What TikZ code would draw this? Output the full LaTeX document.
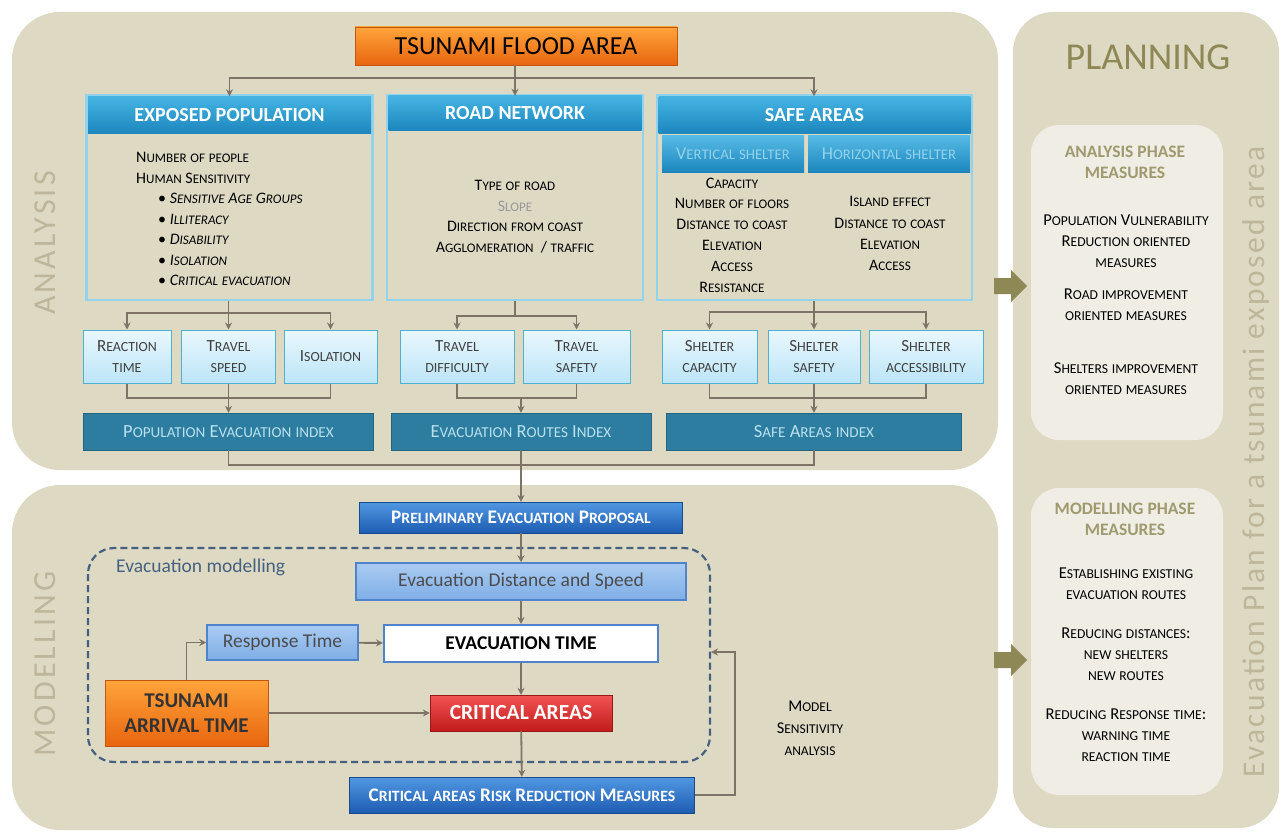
\documentclass[tikz,border=0pt]{standalone}
\usepackage{fontspec}
\setmainfont{Carlito}
\newfontfamily\sidefont[LetterSpace=10]{Carlito}
\newfontfamily\planfont[LetterSpace=7]{Carlito}
\usetikzlibrary{arrows.meta}

\definecolor{panelbg}{HTML}{DDD9C3}
\definecolor{innerbg}{HTML}{EFEDE4}
\definecolor{olive}{HTML}{8E8856}
\definecolor{sidegray}{HTML}{BDB69A}
\definecolor{headtop}{HTML}{45B4E2}
\definecolor{headbot}{HTML}{1C86BE}
\definecolor{bodyline}{HTML}{92D2EC}
\definecolor{facttop}{HTML}{E9F7FD}
\definecolor{factbot}{HTML}{BCE5F7}
\definecolor{factline}{HTML}{4FB0CF}
\definecolor{idxblue}{HTML}{2C7DA0}
\definecolor{idxtext}{HTML}{B9E0EF}
\definecolor{proptop}{HTML}{5198E2}
\definecolor{propbot}{HTML}{1E5CB2}
\definecolor{steptop}{HTML}{A9CBF2}
\definecolor{stepbot}{HTML}{7FAEE6}
\definecolor{stepline}{HTML}{4F84CC}
\definecolor{orgtop}{HTML}{FFA43A}
\definecolor{orgbot}{HTML}{E8650F}
\definecolor{redtop}{HTML}{F25454}
\definecolor{redbot}{HTML}{C21B1B}
\definecolor{linegray}{HTML}{7D7366}
\definecolor{framecol}{HTML}{46617F}

\newcommand{\fsz}[2][1.2]{\fontsize{#2}{#1\dimexpr #2pt\relax}\selectfont}
\makeatletter
\newcommand{\scsmall}[1]{{\fontsize{\dimexpr0.82\dimexpr\f@size pt\relax\relax}{\baselineskip}\selectfont\MakeUppercase{#1}}}
\makeatother
\ExplSyntaxOn
\tl_new:N \l_fakesc_tl
\NewDocumentCommand{\fakesc}{m}
	{
		\tl_set:Nn \l_fakesc_tl {#1}
		\regex_replace_all:nnN {([a-z]+)} {\c{scsmall}\cB\{\1\cE\}} \l_fakesc_tl
		\tl_use:N \l_fakesc_tl
	}
\ExplSyntaxOff

\tikzset{
	bodybox/.style={draw=bodyline, line width=2.5pt, fill=panelbg, inner sep=0pt},
	headbox/.style={top color=headtop, bottom color=headbot, draw=none, text=white, inner sep=0pt, font=\bfseries\fsz{20}},
	shelterhead/.style={top color=headtop!90!white, bottom color=headbot, draw=none, text=bodyline, inner sep=0pt, font=\fsz{18}},
	listtext/.style={inner sep=0pt, font=\fsz[1.28]{16}},
	listmid/.style={inner sep=0pt, font=\fsz[1.3]{16}},
	listwide/.style={inner sep=0pt, font=\fsz[1.33]{16}},
	factorbox/.style={top color=facttop, bottom color=factbot, draw=factline, line width=1pt, inner sep=0pt, align=center, text=black!75, font=\fsz[1.22]{17}},
	indexbox/.style={fill=idxblue, draw=idxblue!80!black, inner sep=0pt, text=idxtext, font=\fsz{18.5}},
	proposalbox/.style={top color=proptop, bottom color=propbot, draw=propbot!80!black, inner sep=0pt, text=white, font=\bfseries\fsz{19.2}},
	stepbox/.style={top color=steptop, bottom color=stepbot, draw=stepline, line width=1.5pt, inner sep=0pt, text=black!70, font=\fsz{19.5}},
	orangebox/.style={top color=orgtop, bottom color=orgbot, draw=orgbot!85!black, inner sep=0pt, text=black},
	redbox/.style={top color=redtop, bottom color=redbot, draw=redbot!80!black, inner sep=0pt, text=white, font=\bfseries\fsz{21.5}},
	line/.style={draw=linegray, line width=1.8pt},
	arrow/.style={line, -{Stealth[length=7pt, width=7pt]}},
	sidetitle/.style={text=sidegray, inner sep=0pt, font=\sidefont\fsz{32}},
	plantext/.style={text=sidegray, inner sep=0pt, font=\planfont\fsz{31.5}},
	measuretitle/.style={text=olive!85, inner sep=0pt, align=center, font=\bfseries\fsz[1.2]{17.5}},
	measuretext/.style={text=black, inner sep=0pt, align=center, font=\fsz[1.27]{16.6}},
	arrivalbox/.style={orangebox, align=center, text=black!80, font=\bfseries\fsz[1.2]{21}},
	sensitext/.style={inner sep=0pt, align=center, font=\fsz[1.35]{16.4}}
}

\begin{document}
\begin{tikzpicture}[x=1pt, y=-1pt]
	%%%%% START %%%%%
	\useasboundingbox (0,0) rectangle (1281,832);
	
	\fill[panelbg, rounded corners=48pt] (12,12) rectangle (998,470);
	\fill[panelbg, rounded corners=48pt] (12,485) rectangle (998,830);
	\fill[panelbg, rounded corners=40pt] (1013,12) rectangle (1279,828);
	\fill[innerbg, rounded corners=28pt] (1031,125) rectangle (1223,440);
	\fill[innerbg, rounded corners=28pt] (1031,488) rectangle (1223,795);
	
	\node[sidetitle, rotate=90] (antitle) at (45,243) {ANALYSIS};
	\node[sidetitle, rotate=90] (motitle) at (45,664) {MODELLING};
	\node[plantext, rotate=90] (plantext) at (1256,462) {Evacuation Plan\hspace{10pt}for a tsunami exposed area};
	\node[text=olive, inner sep=0pt, font=\fsz{38}] (plantitle) at (1148,57) {PLANNING};
	
	\fill[olive] (994,278) -- (1011,278) -- (1011,270) -- (1027,286) -- (1011,302) -- (1011,294) -- (994,294) -- cycle;
	\fill[olive] (994,652) -- (1011,652) -- (1011,644) -- (1027,660) -- (1011,676) -- (1011,668) -- (994,668) -- cycle;
	
	%%%%% ANALYSIS %%%%%
	\node[orangebox, minimum width=322pt, minimum height=38pt, font=\fsz{26}] (flood) at (516,46) {TSUNAMI FLOOD AREA};
	
	\node[bodybox, minimum width=286pt, minimum height=205pt] (expo) at (229.5,197.5) {};
	\node[headbox, minimum width=283pt, minimum height=37pt] (expohead) at (229.5,115) {EXPOSED POPULATION};
	\node[bodybox, minimum width=256pt, minimum height=205pt] (road) at (515,197.5) {};
	\node[headbox, minimum width=253pt, minimum height=34pt] (roadhead) at (515,113) {ROAD NETWORK};
	\node[bodybox, minimum width=315pt, minimum height=205pt] (safe) at (814.5,197.5) {};
	\node[headbox, minimum width=312pt, minimum height=37pt] (safehead) at (814.5,115) {SAFE AREAS};
	\node[shelterhead, minimum width=142pt, minimum height=37pt] (vert) at (733,153.5) {\fakesc{Vertical shelter}};
	\node[shelterhead, minimum width=162pt, minimum height=37pt] (horiz) at (889,153.5) {\fakesc{Horizontal shelter}};
	
	\node[listtext, anchor=north west, align=left] (expolist) at (136,152.5) {\fakesc{Number of people}\\\fakesc{Human Sensitivity}\\
		\hspace{22pt}\textbullet\ \textit{\fakesc{Sensitive Age Groups}}\\
		\hspace{22pt}\textbullet\ \textit{\fakesc{Illiteracy}}\\
		\hspace{22pt}\textbullet\ \textit{\fakesc{Disability}}\\
		\hspace{22pt}\textbullet\ \textit{\fakesc{Isolation}}\\
		\hspace{22pt}\textbullet\ \textit{\fakesc{Critical evacuation}}};
	\node[listtext, anchor=north, align=center] (roadlist) at (515,180.5) {\fakesc{Type of road}\\\textcolor{black!40}{\fakesc{Slope}}\\\fakesc{Direction from coast}\\\fakesc{Agglomeration\ \ / traffic}};
	\node[listmid, anchor=north, align=center] (vertlist) at (732,177.5) {\fakesc{Capacity\\Number of floors\\Distance to coast\\Elevation\\Access\\Resistance}};
	\node[listwide, anchor=north, align=center] (horizlist) at (890,196.5) {\fakesc{Island effect\\Distance to coast\\Elevation\\Access}};
	
	\node[factorbox, minimum width=88pt, minimum height=53pt] (react) at (127,356.5) {\fakesc{Reaction\\time}};
	\node[factorbox, minimum width=94pt, minimum height=53pt] (tspeed) at (228.5,356.5) {\fakesc{Travel\\speed}};
	\node[factorbox, minimum width=93pt, minimum height=53pt] (isol) at (330.5,356.5) {\fakesc{Isolation}};
	\node[factorbox, minimum width=114pt, minimum height=53pt] (tdiff) at (457,356.5) {\fakesc{Travel\\difficulty}};
	\node[factorbox, minimum width=107pt, minimum height=53pt] (tsafe) at (576.5,356.5) {\fakesc{Travel\\safety}};
	\node[factorbox, minimum width=95pt, minimum height=53pt] (scap) at (709.5,356.5) {\fakesc{Shelter\\capacity}};
	\node[factorbox, minimum width=92pt, minimum height=53pt] (ssafe) at (814,356.5) {\fakesc{Shelter\\safety}};
	\node[factorbox, minimum width=114pt, minimum height=53pt] (sacc) at (926,356.5) {\fakesc{Shelter\\accessibility}};
	
	\node[indexbox, minimum width=290pt, minimum height=37pt] (popidx) at (228.5,431.5) {\fakesc{Population Evacuation index}};
	\node[indexbox, minimum width=260pt, minimum height=37pt] (routeidx) at (521,431.5) {\fakesc{Evacuation Routes Index}};
	\node[indexbox, minimum width=295pt, minimum height=37pt] (safeidx) at (814,431.5) {\fakesc{Safe Areas index}};
	
	\coordinate (floodsplit) at (515,78);
	\draw[line] (flood.south -| floodsplit) -- (floodsplit);
	\draw[arrow] (floodsplit) -| (expohead);
	\draw[arrow] (floodsplit) -- (roadhead);
	\draw[arrow] (floodsplit) -| (ssafe |- safehead.north);
	
	\coordinate (exposplit) at (228.5,313);
	\draw[line] (expo.south -| exposplit) -- (exposplit);
	\draw[arrow] (exposplit) -| (react);
	\draw[arrow] (exposplit) -- (tspeed);
	\draw[arrow] (exposplit) -| (isol);
	\coordinate (roadsplit) at (515,316);
	\draw[line] (road) -- (roadsplit);
	\draw[arrow] (roadsplit) -| (tdiff);
	\draw[arrow] (roadsplit) -| (tsafe);
	\coordinate (safesplit) at (814,312);
	\draw[line] (safe.south -| safesplit) -- (safesplit);
	\draw[arrow] (safesplit) -| (scap);
	\draw[arrow] (safesplit) -- (ssafe);
	\draw[arrow] (safesplit) -| (sacc);
	
	\coordinate (expojoin) at (228.5,398);
	\draw[line] (react) |- (expojoin) -| (isol);
	\draw[arrow] (tspeed) -- (popidx);
	\coordinate (roadjoin) at (521,398);
	\draw[line] (tdiff) |- (roadjoin) -| (tsafe);
	\draw[arrow] (roadjoin) -- (routeidx);
	\coordinate (safejoin) at (814,398);
	\draw[line] (scap) |- (safejoin) -| (sacc);
	\draw[arrow] (ssafe) -- (safeidx);
	
	%%%%% MODELLING %%%%%
	\node[proposalbox, minimum width=323pt, minimum height=31pt] (prelim) at (521,517.5) {\fakesc{Preliminary Evacuation Proposal}};
	
	\coordinate (idxjoin) at (521,465);
	\draw[line] (popidx) |- (idxjoin) -| (safeidx);
	\draw[line] (routeidx) -- (idxjoin);
	\draw[arrow] (idxjoin) -- (prelim);
	
	\draw[framecol, line width=2.2pt, dash pattern=on 7pt off 4pt, rounded corners=26pt] (88,548) rectangle (710,762);
	\node[anchor=west, inner sep=0pt, text=framecol, font=\fsz{19.5}] (evaclabel) at (116,567) {Evacuation modelling};
	
	\node[stepbox, minimum width=330pt, minimum height=37pt] (evdist) at (521,581.5) {Evacuation Distance and Speed};
	\node[stepbox, minimum width=151pt, minimum height=35pt] (resp) at (282.5,642.5) {Response Time};
	\node[draw=stepline, line width=2pt, fill=white, inner sep=0pt, minimum width=274pt, minimum height=37pt, font=\bfseries\fsz{19.5}] (evtime) at (521,643.5) {EVACUATION TIME};
	\node[arrivalbox, minimum width=163pt, minimum height=66pt] (arrival) at (186.5,713) {TSUNAMI\\ARRIVAL TIME};
	\node[redbox, minimum width=182pt, minimum height=36pt] (critical) at (521,713) {CRITICAL AREAS};
	\node[proposalbox, minimum width=345pt, minimum height=36pt] (riskred) at (522,795) {\fakesc{Critical areas Risk Reduction Measures}};
	
	\draw[arrow] (prelim) -- (evdist);
	\draw[arrow] (evdist) -- (evtime);
	\draw[arrow] (resp) -- (evtime);
	\draw[arrow] (arrival) |- (resp);
	\draw[arrow] (arrival) -- (critical);
	\draw[arrow] (evtime) -- (critical);
	\draw[arrow] (critical) -- (riskred);
	
	\coordinate (fbturn) at (735,652);
	\coordinate (framein) at (711,652);
	\draw[line, line width=1.2pt, -{Stealth[length=7pt, width=7pt]}] (riskred) -| (fbturn) -- (framein);
	\node[sensitext] (sensit) at (810,728) {\fakesc{Model\\Sensitivity\\analysis}};
	
	%%%%% PLANNING %%%%%
	\node[measuretitle] (antmeas) at (1125,162) {ANALYSIS PHASE\\MEASURES};
	\node[measuretext] (popmeas) at (1126,241) {\fakesc{Population Vulnerability\\Reduction oriented\\measures}};
	\node[measuretext] (roadmeas) at (1126,304.5) {\fakesc{Road improvement\\oriented measures}};
	\node[measuretext] (shelmeas) at (1126,378.5) {\fakesc{Shelters improvement\\oriented measures}};
	
	\node[measuretitle] (modmeas) at (1125,519.5) {MODELLING PHASE\\MEASURES};
	\node[measuretext] (routemeas) at (1126,583.5) {\fakesc{Establishing existing\\evacuation routes}};
	\node[measuretext] (distmeas) at (1126,654) {\fakesc{Reducing distances:\\new shelters\\new routes}};
	\node[measuretext] (respmeas) at (1126,735.5) {\fakesc{Reducing Response time:\\warning time\\reaction time}};
	
	%%%%% END %%%%%
\end{tikzpicture}
\end{document}
